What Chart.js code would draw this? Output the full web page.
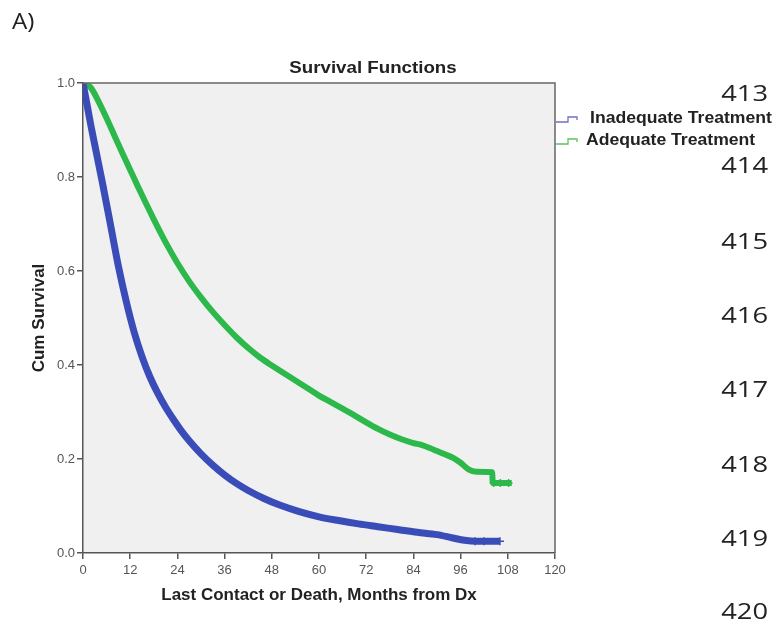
<!DOCTYPE html>
<html>
<head>
<meta charset="utf-8">
<script src="https://cdn.jsdelivr.net/npm/chart.js@4.4.0/dist/chart.umd.min.js"></script>
<style>
  body { margin: 0; background: #fff; width: 777px; height: 622px; overflow: hidden; position: relative; }
  #wrap { position: absolute; left: 0; top: 0; width: 777px; height: 622px; }
  .panel { position: absolute; left: 12px; top: 7px; font: 21px "Open Sans", sans-serif; color: #222; transform: scaleX(1.15); transform-origin: left; }
  .ln { position: absolute; right: 9px; font: 21px "Open Sans", sans-serif; color: #222; line-height: 24px; margin-top: -12px; transform: scaleX(1.3); transform-origin: right; }
</style>
</head>
<body>
<div id="wrap"><canvas id="grafico" width="777" height="622"></canvas></div>
<div class="panel">A)</div>
<div class="ln" style="top:93px">413</div>
<div class="ln" style="top:165px">414</div>
<div class="ln" style="top:241px">415</div>
<div class="ln" style="top:315px">416</div>
<div class="ln" style="top:389px">417</div>
<div class="ln" style="top:464px">418</div>
<div class="ln" style="top:538px">419</div>
<div class="ln" style="top:611px">420</div>
<script>
// Curvas de sobrevida (meses, sobrevida acumulada)
const inadeqMeses = [0, 1, 2, 3, 5, 7, 9, 11, 13, 15, 17, 19, 21, 23, 25, 27, 30, 33, 36, 39, 42, 46, 50, 55, 60, 65, 70, 75, 80, 85, 90, 94, 97, 100, 106];
const inadeqSobrev = [1.0, 0.955, 0.91, 0.868, 0.785, 0.698, 0.61, 0.535, 0.47, 0.418, 0.375, 0.34, 0.31, 0.284, 0.26, 0.239, 0.211, 0.187, 0.166, 0.148, 0.133, 0.116, 0.102, 0.088, 0.077, 0.069, 0.062, 0.056, 0.05, 0.044, 0.039, 0.032, 0.027, 0.025, 0.025];

const adeqMeses = [0, 2, 4, 6, 8, 10, 12, 14, 16, 18, 20, 22, 24, 27, 30, 33, 36, 39, 42, 45, 48, 51, 54, 57, 60, 63, 66, 69, 72, 75, 78, 81, 84, 86, 88, 90, 92, 94, 96, 98, 100, 104, 104.2, 109];
const adeqSobrev = [1.0, 0.99, 0.96, 0.925, 0.888, 0.851, 0.815, 0.779, 0.744, 0.71, 0.677, 0.646, 0.617, 0.578, 0.544, 0.513, 0.485, 0.459, 0.436, 0.416, 0.399, 0.383, 0.367, 0.351, 0.335, 0.321, 0.307, 0.293, 0.278, 0.264, 0.252, 0.242, 0.234, 0.23, 0.224, 0.217, 0.21, 0.203, 0.192, 0.178, 0.173, 0.172, 0.149, 0.149];

// Censuras no fim das curvas
const inadeqCensMeses = [99.7, 102, 106];
const inadeqCensSobrev = [0.025, 0.025, 0.025];
const adeqCensMeses = [104.4, 106.1, 108.2];
const adeqCensSobrev = [0.149, 0.149, 0.149];

const xTicks = [0, 12, 24, 36, 48, 60, 72, 84, 96, 108, 120];
const yTicks = [0, 0.2, 0.4, 0.6, 0.8, 1.0];

const azul = "#3a4cb8";
const verde = "#2cb84a";

function pontos(xs, ys) {
  return xs.map((x, i) => ({ x: x, y: ys[i] }));
}

const fundo = {
  id: "fundo",
  beforeDraw(chart) {
    const { ctx, chartArea: a } = chart;
    ctx.save();
    ctx.fillStyle = "#f0f0f0";
    ctx.fillRect(a.left, a.top, a.right - a.left, a.bottom - a.top);
    ctx.restore();
  },
  afterDraw(chart) {
    const { ctx, chartArea: a } = chart;
    ctx.save();
    // moldura superior e direita
    ctx.strokeStyle = "#666";
    ctx.lineWidth = 1.5;
    ctx.beginPath();
    ctx.moveTo(a.left, a.top);
    ctx.lineTo(a.right, a.top);
    ctx.lineTo(a.right, a.bottom);
    ctx.stroke();

    // titulo
    ctx.fillStyle = "#222";
    ctx.font = "bold 17px 'Liberation Sans', Arial, sans-serif";
    ctx.textAlign = "center";
    ctx.textBaseline = "middle";
    ctx.save();
    ctx.translate(373, 68);
    ctx.scale(1.1, 1);
    ctx.fillText("Survival Functions", 0, 0);
    ctx.restore();

    // legenda
    const itens = [
      { txt: chart.data.datasets[0].label, cor: "#7070c4", x: 556, y: 119, tx: 590 },
      { txt: chart.data.datasets[1].label, cor: "#60c068", x: 556, y: 141, tx: 586 }
    ];
    ctx.textAlign = "left";
    itens.forEach(it => {
      ctx.strokeStyle = it.cor;
      ctx.lineWidth = 1.3;
      ctx.beginPath();
      ctx.moveTo(it.x, it.y + 3);
      ctx.lineTo(it.x + 12, it.y + 3);
      ctx.lineTo(it.x + 12, it.y - 2);
      ctx.lineTo(it.x + 21, it.y - 2);
      ctx.lineTo(it.x + 21, it.y + 1);
      ctx.stroke();
      ctx.fillStyle = "#222";
      ctx.font = "bold 16px 'Liberation Sans', Arial, sans-serif";
      ctx.save();
      ctx.translate(it.tx, it.y);
      ctx.scale(1.1, 1);
      ctx.fillText(it.txt, 0, 0);
      ctx.restore();
    });
    ctx.restore();
  }
};

const fonteTick = { family: "'Liberation Sans', Arial, sans-serif", size: 13 };
const fonteTitulo = { family: "'Liberation Sans', Arial, sans-serif", size: 17, weight: "bold" };

new Chart(document.getElementById("grafico"), {
  type: "scatter",
  data: {
    datasets: [
      {
        label: "Inadequate Treatment",
        data: pontos(inadeqMeses, inadeqSobrev),
        showLine: true,
        borderColor: azul,
        borderWidth: 7,
        pointRadius: 0,
        cubicInterpolationMode: "monotone"
      },
      {
        label: "Adequate Treatment",
        data: pontos(adeqMeses, adeqSobrev),
        showLine: true,
        borderColor: verde,
        borderWidth: 6,
        pointRadius: 0,
        cubicInterpolationMode: "monotone"
      },
      {
        label: "censura inadequate",
        data: pontos(inadeqCensMeses, inadeqCensSobrev),
        pointStyle: "cross",
        pointRadius: 4,
        borderWidth: 1.5,
        borderColor: azul
      },
      {
        label: "censura adequate",
        data: pontos(adeqCensMeses, adeqCensSobrev),
        pointStyle: "cross",
        pointRadius: 4,
        borderWidth: 1.5,
        borderColor: verde
      }
    ]
  },
  options: {
    responsive: false,
    animation: false,
    layout: { padding: { left: 25, top: 83, right: 222, bottom: 12 } },
    plugins: { legend: { display: false }, tooltip: { enabled: false } },
    scales: {
      x: {
        type: "linear",
        min: 0,
        max: 120,
        afterBuildTicks: s => { s.ticks = xTicks.map(v => ({ value: v })); },
        afterFit: s => { s.height = 57; },
        ticks: { font: fonteTick, color: "#555", padding: 4, maxRotation: 0 },
        grid: { drawOnChartArea: false, tickLength: 6, color: "#555", lineWidth: 1.5 },
        border: { color: "#555", width: 1.5 },
        title: { display: true, text: "Last Contact or Death, Months from Dx", font: fonteTitulo, color: "#222", padding: { top: 2 } }
      },
      y: {
        min: 0,
        max: 1,
        afterBuildTicks: s => { s.ticks = yTicks.map(v => ({ value: v })); },
        afterFit: s => { s.width = 58; },
        ticks: { font: fonteTick, color: "#555", padding: 2, callback: v => v.toFixed(1) },
        grid: { drawOnChartArea: false, tickLength: 6, color: "#555", lineWidth: 1.5 },
        border: { color: "#555", width: 1.5 },
        title: { display: true, text: "Cum Survival", font: fonteTitulo, color: "#222" }
      }
    }
  },
  plugins: [fundo]
});
</script>
</body>
</html>
